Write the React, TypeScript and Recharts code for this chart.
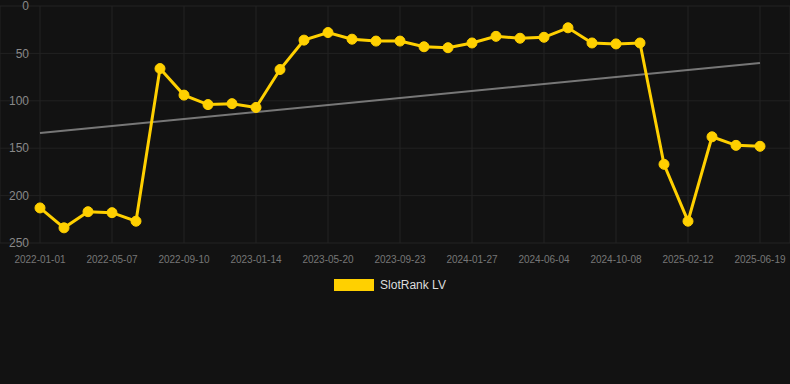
import { LineChart, Line, XAxis, YAxis, CartesianGrid, ReferenceLine, Legend } from 'recharts'

const dates = [
  '2022-01-01', '2022-02-12', '2022-03-26', '2022-05-07', '2022-06-18', '2022-07-30',
  '2022-09-10', '2022-10-22', '2022-12-03', '2023-01-14', '2023-02-25', '2023-04-08',
  '2023-05-20', '2023-07-01', '2023-08-12', '2023-09-23', '2023-11-04', '2023-12-16',
  '2024-01-27', '2024-03-10', '2024-04-23', '2024-06-04', '2024-07-16', '2024-08-27',
  '2024-10-08', '2024-11-20', '2025-01-01', '2025-02-12', '2025-03-26', '2025-05-07',
  '2025-06-19',
]

const ranks = [
  213, 234, 217, 218, 227, 66, 94, 104, 103, 107, 67, 36, 28, 35, 37, 37, 43, 44, 39,
  32, 34, 33, 23, 39, 40, 39, 167, 227, 138, 147, 148,
]

const yTicks = [0, 50, 100, 150, 200, 250]
const trendStart = 134
const trendEnd = 60

const seriesName = 'SlotRank LV'
const yellow = '#FFD000'

const data = dates.map((d, i) => ({ date: d, rank: ranks[i] }))

const LegendBox = () => (
  <div style={{ display: 'flex', justifyContent: 'center', alignItems: 'center', gap: 6, marginLeft: -10 }}>
    <span style={{ width: 40, height: 12, background: yellow, display: 'inline-block' }} />
    <span style={{ color: '#dddddd', fontSize: 12 }}>{seriesName}</span>
  </div>
)

export default function App() {
  return (
    <div
      style={{
        position: 'absolute',
        left: 0,
        top: 0,
        width: 790,
        height: 384,
        background: '#121212',
        fontFamily: 'Arial, Helvetica, sans-serif',
      }}
    >
      <LineChart width={790} height={384} data={data} margin={{ top: 6, right: 0, left: -37, bottom: 91 }}>
        <CartesianGrid stroke="#222222" strokeWidth={1} />
        <XAxis
          dataKey="date"
          interval={2}
          padding={{ left: 40, right: 30 }}
          tickLine={false}
          axisLine={false}
          height={30}
          tick={{ fill: '#777777', fontSize: 10, dy: 5 }}
        />
        <YAxis
          reversed
          domain={[0, 250]}
          ticks={yTicks}
          interval={0}
          width={37}
          tickLine={false}
          axisLine={false}
          tick={{ fill: '#888888', fontSize: 12, dx: 37 }}
        />
        <ReferenceLine
          segment={[
            { x: dates[0], y: trendStart },
            { x: dates[dates.length - 1], y: trendEnd },
          ]}
          stroke="#777777"
          strokeWidth={2}
        />
        <Line
          type="linear"
          dataKey="rank"
          name={seriesName}
          stroke={yellow}
          strokeWidth={3}
          dot={{ r: 5, fill: yellow, stroke: yellow, strokeWidth: 1 }}
          activeDot={false}
          isAnimationActive={false}
        />
        <Legend height={20} content={<LegendBox />} wrapperStyle={{ top: 278, left: 0, width: 790 }} />
      </LineChart>
    </div>
  )
}
